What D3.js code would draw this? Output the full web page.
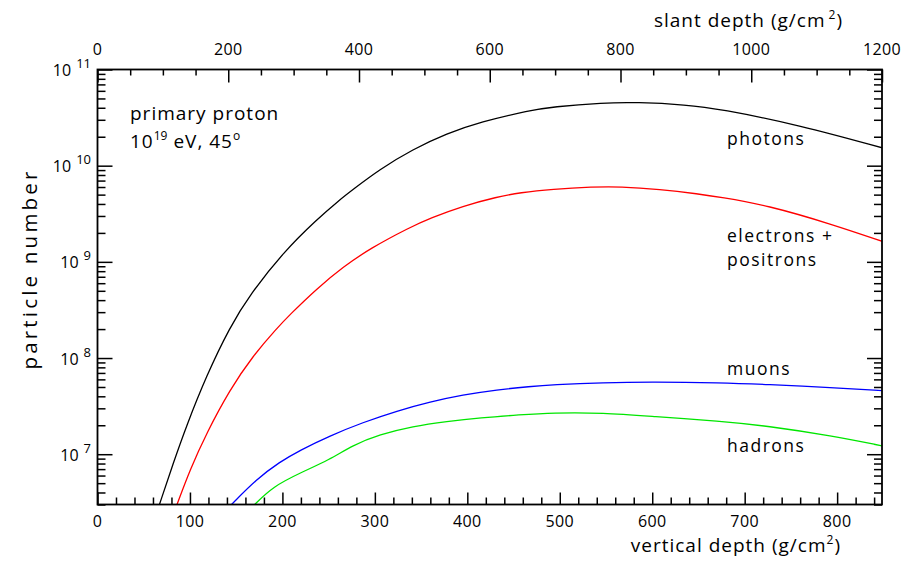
<!DOCTYPE html>
<html>
<head>
<meta charset="utf-8">
<script src="https://cdn.jsdelivr.net/npm/d3@7"></script>
<style>
  html, body { margin: 0; padding: 0; background: #fff; }
  svg { display: block; }
  text { font-family: "Open Sans", "Noto Sans", sans-serif; fill: #000; }
</style>
</head>
<body>
<div id="chart"></div>
<script>
// ---- data (vertical depth in g/cm^2, particle number) ----
const photonDepth = [67, 82, 96, 118, 143, 165, 201, 237, 262, 276, 305, 341, 378, 414, 468, 492, 547, 583, 637, 673, 760, 849];
const photonN     = [3.0e6, 8.1e6, 1.95e7, 6.6e7, 2.09e8, 4.57e8, 1.26e9, 2.75e9, 4.42e9, 5.62e9, 9.12e9, 1.48e10, 2.16e10, 2.85e10, 3.76e10, 4.09e10, 4.52e10, 4.57e10, 4.30e10, 3.89e10, 2.63e10, 1.53e10];

const electronDepth = [86, 100, 118, 143, 168, 194, 208, 237, 266, 295, 338, 360, 395, 432, 457, 492, 536, 565, 608, 651, 673, 724, 795, 849];
const electronN     = [3.0e6, 6.9e6, 1.66e7, 4.68e7, 1.05e8, 2.04e8, 2.82e8, 5.25e8, 8.91e8, 1.38e9, 2.29e9, 2.85e9, 3.80e9, 4.73e9, 5.25e9, 5.71e9, 6.03e9, 6.07e9, 5.69e9, 5.07e9, 4.71e9, 3.89e9, 2.45e9, 1.63e9];

const muonDepth = [145, 172, 197, 219, 251, 287, 324, 360, 395, 432, 468, 492, 547, 601, 673, 724, 795, 849];
const muonN     = [3.0e6, 5.5e6, 8.3e6, 1.1e7, 1.55e7, 2.14e7, 2.82e7, 3.51e7, 4.14e7, 4.68e7, 5.06e7, 5.27e7, 5.56e7, 5.66e7, 5.53e7, 5.31e7, 4.94e7, 4.57e7];

const hadronDepth = [170, 190, 219, 251, 276, 305, 341, 378, 414, 457, 492, 547, 601, 673, 724, 795, 849];
const hadronN     = [3.0e6, 4.62e6, 6.38e6, 8.77e6, 1.24e7, 1.6e7, 1.95e7, 2.19e7, 2.39e7, 2.57e7, 2.7e7, 2.7e7, 2.47e7, 2.21e7, 1.97e7, 1.55e7, 1.22e7];

const seriesNames  = ["photons", "electrons +|positrons", "muons", "hadrons"];
const seriesColors = ["#000000", "#ff0000", "#0000ff", "#00e600"];

const bottomTicks = [0, 100, 200, 300, 400, 500, 600, 700, 800];
const topTicks    = [0, 200, 400, 600, 800, 1000, 1200];
const yExponents  = [7, 8, 9, 10, 11];

// ---- layout ----
const W = 902, H = 561;
const m = { l: 97.5, r: 882, t: 69.5, b: 504.5 };

const svg = d3.select("#chart").append("svg").attr("width", W).attr("height", H);

const x = d3.scaleLinear().domain([0, 1200 / Math.SQRT2]).range([m.l, m.r]);
const xTop = d3.scaleLinear().domain([0, 1200]).range([m.l, m.r]);
const y = d3.scaleLog().domain([3e6, 1e11]).range([m.b, m.t]);

svg.append("defs").append("clipPath").attr("id", "clip")
  .append("rect").attr("x", m.l).attr("y", m.t).attr("width", m.r - m.l).attr("height", m.b - m.t);

// ---- curves ----
const series = [
  { d: photonDepth, n: photonN },
  { d: electronDepth, n: electronN },
  { d: muonDepth, n: muonN },
  { d: hadronDepth, n: hadronN }
];
const line = d3.line().x(p => x(p[0])).y(p => y(p[1])).curve(d3.curveBasis);
const gCurves = svg.append("g").attr("clip-path", "url(#clip)");
series.forEach((s, i) => {
  gCurves.append("path")
    .datum(s.d.map((v, k) => [v, s.n[k]]))
    .attr("d", line)
    .attr("fill", "none")
    .attr("stroke", seriesColors[i])
    .attr("stroke-width", 1.3);
});

// ---- axes ----
function styleAxis(g) {
  g.select(".domain").remove();
  g.selectAll(".tick line").attr("stroke", "#000").attr("stroke-width", 1.5);
  g.selectAll(".tick text").remove();
}
const minorBottom = d3.range(0, 849, 20).filter(v => v % 100 !== 0);
svg.append("g").attr("transform", `translate(0,${m.b})`)
  .call(d3.axisBottom(x).tickValues(bottomTicks).tickSize(-12).tickFormat("")).call(styleAxis);
svg.append("g").attr("transform", `translate(0,${m.b})`)
  .call(d3.axisBottom(x).tickValues(minorBottom).tickSize(-7).tickFormat("")).call(styleAxis);
const minorTop = d3.range(0, 1201, 50).filter(v => v % 200 !== 0);
svg.append("g").attr("transform", `translate(0,${m.t})`)
  .call(d3.axisTop(xTop).tickValues(topTicks).tickSize(-13).tickFormat("")).call(styleAxis);
svg.append("g").attr("transform", `translate(0,${m.t})`)
  .call(d3.axisTop(xTop).tickValues(minorTop).tickSize(-6).tickFormat("")).call(styleAxis);
const majorY = yExponents.map(e => Math.pow(10, e));
const minorY = [];
for (let e = 6; e <= 10; e++) for (let k = 2; k <= 9; k++) {
  const v = k * Math.pow(10, e);
  if (v >= 3e6 && v <= 1e11) minorY.push(v);
}
svg.append("g").attr("transform", `translate(${m.l},0)`)
  .call(d3.axisLeft(y).tickValues(majorY).tickSize(-15).tickFormat("")).call(styleAxis);
svg.append("g").attr("transform", `translate(${m.l},0)`)
  .call(d3.axisLeft(y).tickValues(minorY).tickSize(-8).tickFormat("")).call(styleAxis);
svg.append("g").attr("transform", `translate(${m.r},0)`)
  .call(d3.axisRight(y).tickValues(majorY).tickSize(-15).tickFormat("")).call(styleAxis);
svg.append("g").attr("transform", `translate(${m.r},0)`)
  .call(d3.axisRight(y).tickValues(minorY).tickSize(-8).tickFormat("")).call(styleAxis);

svg.append("rect").attr("x", m.l).attr("y", m.t).attr("width", m.r - m.l).attr("height", m.b - m.t)
  .attr("fill", "none").attr("stroke", "#000").attr("stroke-width", 1.8);

// ---- tick labels ----
const fs = 16;
svg.append("g").selectAll("text").data(bottomTicks).join("text")
  .attr("x", d => x(d)).attr("y", 527).attr("text-anchor", "middle")
  .attr("font-size", fs).attr("letter-spacing", 0.4).text(d => d);
svg.append("g").selectAll("text").data(topTicks).join("text")
  .attr("x", d => xTop(d)).attr("y", 55).attr("text-anchor", "middle")
  .attr("font-size", fs).attr("letter-spacing", 0.4).text(d => d);
svg.append("g").selectAll("text").data(yExponents).join("text")
  .attr("x", 91).attr("y", d => y(Math.pow(10, d)) + 6.5).attr("text-anchor", "end")
  .attr("font-size", fs)
  .each(function (d) {
    const t = d3.select(this);
    t.append("tspan").text("10");
    t.append("tspan").attr("dx", 5).attr("dy", -8).attr("font-size", 13).text(d);
  });

// ---- axis titles ----
const ts = 19, ls = 1;
const bt = svg.append("text").attr("x", 841).attr("y", 552).attr("text-anchor", "end")
  .attr("font-size", ts).attr("letter-spacing", ls);
bt.append("tspan").text("vertical depth (g/cm");
bt.append("tspan").attr("dy", -8).attr("font-size", 12).text("2");
bt.append("tspan").attr("dy", 8).text(")");

const tt = svg.append("text").attr("x", 843).attr("y", 27).attr("text-anchor", "end")
  .attr("font-size", ts).attr("letter-spacing", ls);
tt.append("tspan").text("slant depth (g/cm");
tt.append("tspan").attr("dx", 3).attr("dy", -8).attr("font-size", 12).text("2");
tt.append("tspan").attr("dy", 8).text(")");

svg.append("text").attr("transform", "translate(37,269) rotate(-90)")
  .attr("text-anchor", "middle").attr("font-size", 20.5).attr("letter-spacing", 3.2).text("particle number");

// ---- annotations ----
svg.append("text").attr("x", 130).attr("y", 120).attr("font-size", ts).attr("letter-spacing", ls).text("primary proton");
const en = svg.append("text").attr("x", 130).attr("y", 148).attr("font-size", ts).attr("letter-spacing", ls);
en.append("tspan").text("10");
en.append("tspan").attr("dy", -8).attr("font-size", 12).attr("letter-spacing", 0).text("19");
en.append("tspan").attr("dy", 8).text(" eV, 45");
en.append("tspan").attr("dy", -8).attr("font-size", 12).text("o");

const labelY = [[145], [242, 266], [375], [452]];
seriesNames.forEach((nm, i) => {
  nm.split("|").forEach((p, k) => {
    svg.append("text").attr("x", 727).attr("y", labelY[i][k])
      .attr("font-size", 17.5).attr("letter-spacing", 1.5).text(p);
  });
});
</script>
</body>
</html>
